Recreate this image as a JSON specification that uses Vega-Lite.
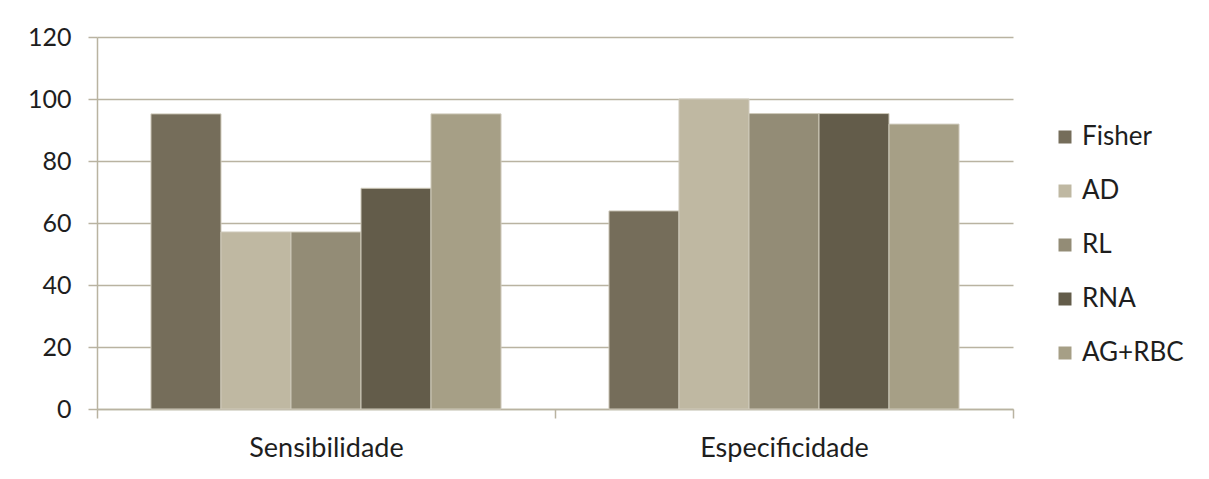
{
  "$schema": "https://vega.github.io/schema/vega-lite/v6.json",
  "autosize": "none",
  "width": 916,
  "height": 372,
  "padding": {"left": 97, "top": 37, "right": 196, "bottom": 70},
  "background": "white",
  "config": {
    "view": {"stroke": null},
    "font": "Lato",
    "axis": {
      "labelFont": "Lato",
      "labelColor": "#1e1e1e",
      "domainColor": "#b9b3a1",
      "tickColor": "#b9b3a1",
      "gridColor": "#b9b3a1",
      "domainWidth": 1.5,
      "tickWidth": 1.5,
      "gridWidth": 1.5
    }
  },
  "data": {
    "values": [
      {"grupo": "Sensibilidade", "metodo": "Fisher", "valor": 95.2},
      {"grupo": "Sensibilidade", "metodo": "AD", "valor": 57.1},
      {"grupo": "Sensibilidade", "metodo": "RL", "valor": 57.1},
      {"grupo": "Sensibilidade", "metodo": "RNA", "valor": 71.2},
      {"grupo": "Sensibilidade", "metodo": "AG+RBC", "valor": 95.2},
      {"grupo": "Especificidade", "metodo": "Fisher", "valor": 63.9},
      {"grupo": "Especificidade", "metodo": "AD", "valor": 100},
      {"grupo": "Especificidade", "metodo": "RL", "valor": 95.3},
      {"grupo": "Especificidade", "metodo": "RNA", "valor": 95.3},
      {"grupo": "Especificidade", "metodo": "AG+RBC", "valor": 91.9}
    ]
  },
  "mark": {"type": "bar", "stroke": "#cfcabb", "strokeWidth": 1},
  "encoding": {
    "x": {
      "field": "grupo",
      "type": "nominal",
      "sort": ["Sensibilidade", "Especificidade"],
      "scale": {"paddingInner": 0, "paddingOuter": 0},
      "axis": {
        "title": null,
        "labelAngle": 0,
        "labelFontSize": 27,
        "labelPadding": 17,
        "tickSize": 9,
        "tickBand": "extent",
        "grid": false
      }
    },
    "xOffset": {
      "field": "metodo",
      "type": "nominal",
      "sort": ["Fisher", "AD", "RL", "RNA", "AG+RBC"],
      "scale": {"paddingInner": 0, "paddingOuter": 0.771}
    },
    "y": {
      "field": "valor",
      "type": "quantitative",
      "scale": {"domain": [0, 120], "nice": false},
      "axis": {
        "title": null,
        "values": [0, 20, 40, 60, 80, 100, 120],
        "labelFontSize": 25,
        "labelPadding": 17,
        "tickSize": 9,
        "grid": true
      }
    },
    "color": {
      "field": "metodo",
      "type": "nominal",
      "sort": ["Fisher", "AD", "RL", "RNA", "AG+RBC"],
      "scale": {
        "domain": ["Fisher", "AD", "RL", "RNA", "AG+RBC"],
        "range": ["#756d5a", "#bfb8a2", "#938c76", "#635c4a", "#a69f86"]
      },
      "legend": {
        "title": null,
        "orient": "none",
        "legendX": 955,
        "legendY": 87,
        "symbolType": "square",
        "symbolSize": 169,
        "symbolStrokeWidth": 0,
        "labelFont": "Lato",
        "labelFontSize": 26,
        "labelColor": "#1e1e1e",
        "labelOffset": 4,
        "rowPadding": 28
      }
    }
  }
}
